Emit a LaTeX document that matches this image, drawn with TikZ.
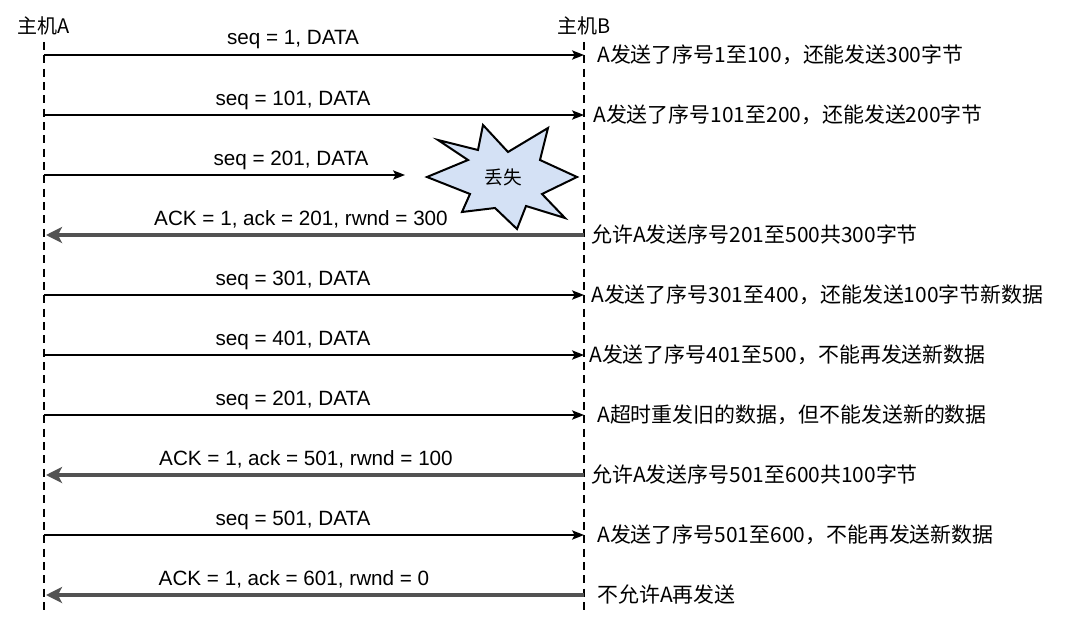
\documentclass[tikz,border=0pt]{standalone}
\usepackage{fontspec}
\setmainfont{Liberation Sans}
\newfontfamily\cjk{Noto Sans CJK SC}
\usetikzlibrary{arrows.meta}
\begin{document}
\begin{tikzpicture}[x=0.75pt,y=-0.75pt,
  life/.style={line width=1.5pt,dash pattern=on 6pt off 4pt},
  fw/.style={line width=1.1pt,-{Stealth[length=9pt,width=7pt,inset=2pt]}},
  bw/.style={line width=3pt,draw=black!68,-{Stealth[length=12pt,width=12pt,inset=3pt]}},
  lab/.style={font=\fontsize{15.5}{17}\selectfont,inner sep=0pt},
  note/.style={font=\cjk\fontsize{15.7}{17}\selectfont,anchor=west,inner sep=0pt}]
\useasboundingbox (0,0) rectangle (1080,642);
\node[font=\cjk\fontsize{15}{16}\selectfont,inner sep=0pt] (ha) at (44,26) {主机A};
\node[font=\cjk\fontsize{15}{16}\selectfont,inner sep=0pt] (hb) at (584,26) {主机B};
\coordinate (at) at (44,42); \coordinate (ab) at (44,612);
\coordinate (bt) at (584,42); \coordinate (bb) at (584,612);
\draw[life] (at) -- (ab);
\draw[life] (bt) -- (bb);
% star
\filldraw[line width=1.5pt,fill={rgb,255:red,212;green,225;blue,245}]
 (483,125)--(508,152)--(548,128)--(540,160)--(577,177)--(542,194)--(565,218)--(526,206)--(517,229)--(495,208)--(462,212)--(470,194)--(427,177)--(468,160)--(438,140)--(478,150)--cycle;
\node[font=\cjk\fontsize{14}{16}\selectfont] (loss) at (503,177) {丢失};
% rows
\foreach \y/\t in {55/{seq = 1, DATA},115/{seq = 101, DATA},295/{seq = 301, DATA},355/{seq = 401, DATA},415/{seq = 201, DATA},535/{seq = 501, DATA}}{
  \coordinate (s\y) at (44,\y); \coordinate (e\y) at (584,\y);
  \draw[fw] (s\y) -- (e\y);
  \node[lab] (l\y) at (293,\y-15) {\t};
}
\coordinate (s175) at (44,175); \coordinate (e175) at (405,175);
\draw[fw] (s175) -- (e175);
\node[lab] (l175) at (291,160) {seq = 201, DATA};
\foreach \y/\t/\cx in {235/{ACK = 1, ack = 201, rwnd = 300}/301,475/{ACK = 1, ack = 501, rwnd = 100}/306,595/{ACK = 1, ack = 601, rwnd = 0}/294}{
  \coordinate (r\y) at (584,\y); \coordinate (q\y) at (46,\y);
  \draw[bw] (r\y) -- (q\y);
  \node[lab] (k\y) at (\cx,\y-16) {\t};
}
\node[note] (n1) at (597,55) {A发送了序号1至100，还能发送300字节};
\node[note] (n2) at (593,115) {A发送了序号101至200，还能发送200字节};
\node[note] (n4) at (591,235) {允许A发送序号201至500共300字节};
\node[note] (n5) at (591,295) {A发送了序号301至400，还能发送100字节新数据};
\node[note] (n6) at (589,355) {A发送了序号401至500，不能再发送新数据};
\node[note] (n7) at (597,415) {A超时重发旧的数据，但不能发送新的数据};
\node[note] (n8) at (591,475) {允许A发送序号501至600共100字节};
\node[note] (n9) at (597,535) {A发送了序号501至600，不能再发送新数据};
\node[note] (n10) at (597,595) {不允许A再发送};
\end{tikzpicture}
\end{document}
